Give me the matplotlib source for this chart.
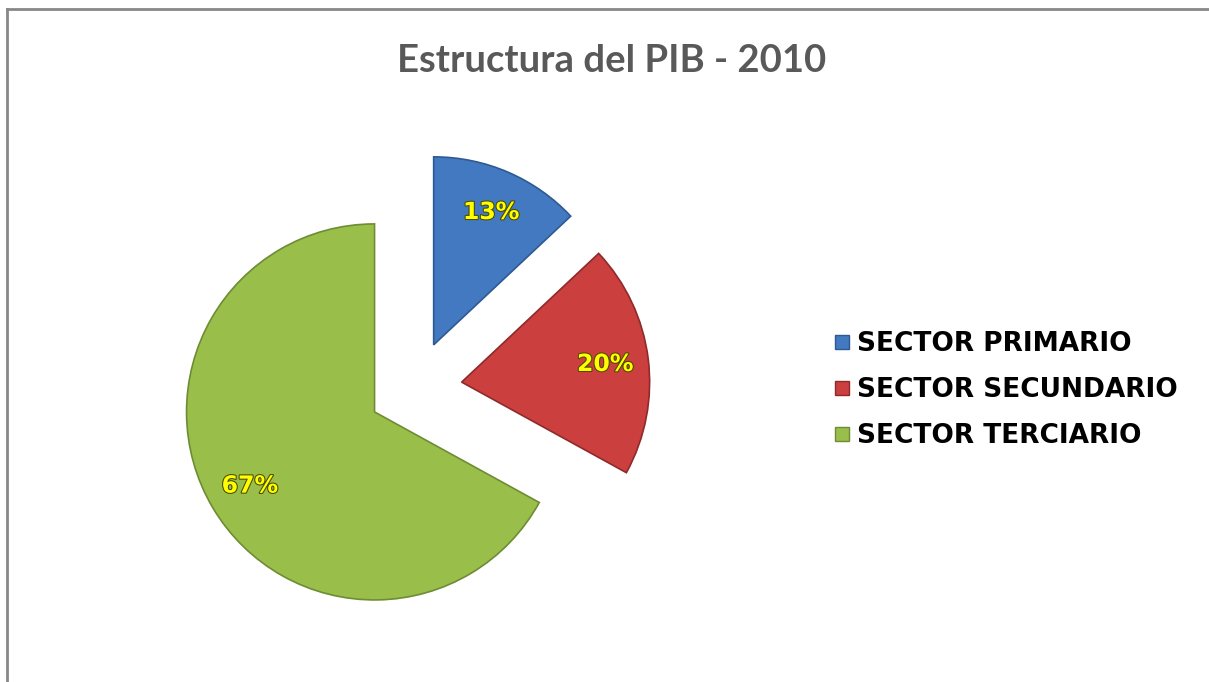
#Pie chart of the GDP structure (2010) split by economic sector
import matplotlib.pyplot as plt
import matplotlib.patheffects as pe
from matplotlib.lines import Line2D

sectors = ['SECTOR PRIMARIO', 'SECTOR SECUNDARIO', 'SECTOR TERCIARIO']
shares = [13, 20, 67]
colors = ['#4279C0', '#CC3F3F', '#99BF4A']
edges = ['#2E5A92', '#8E2A2A', '#6E8C33']
title = 'Estructura del PIB - 2010'

W, H = 1209, 682
fig = plt.figure(figsize=(W / 100, H / 100), dpi=100)
ax = fig.add_axes([0, 0, 1, 1])

#pie center and radius in pixels, explode as a fraction of the radius
cx, cy, r = 415, 388, 188

wedges, texts, autotexts = ax.pie(
    shares, colors=colors, startangle=90, counterclock=False,
    explode=[0.25] * 3, radius=1, center=(0, 0), frame=True,
    autopct='%1.0f%%', pctdistance=0.77,
    wedgeprops=dict(linewidth=1.2),
    textprops=dict(color='#FFFF00', fontsize=17, fontweight='bold',
                   family='DejaVu Sans'))
for w, ec in zip(wedges, edges):
    w.set_edgecolor(ec)
ax.set_xlim(-cx / r, (W - cx) / r)
ax.set_ylim(-(H - cy) / r, cy / r)
ax.set_aspect('auto')
ax.axis('off')

for t in autotexts:
    t.set_path_effects([pe.withStroke(linewidth=1.5, foreground='#4a4a00')])

handles = [Line2D([], [], marker='s', linestyle='', markersize=10,
                  markerfacecolor=c, markeredgecolor=e)
           for c, e in zip(colors, edges)]
fig.legend(handles, sectors, loc='center left', bbox_to_anchor=(802 / W, 1 - 390 / H),
           frameon=False, handletextpad=0.0, handlelength=1.2, labelspacing=0.75,
           prop=dict(family='DejaVu Sans', weight='bold', size=19))

fig.text(612 / W, 1 - 61 / H, title, ha='center', va='center',
         fontsize=27.5, fontweight='bold', color='#595959', family='Lato')

#chart border (only top and left show in the crop)
fig.add_artist(Line2D([7 / W, 7 / W], [0, 1 - 9 / H], color='#888888', lw=2))
fig.add_artist(Line2D([7 / W, 1], [1 - 9 / H, 1 - 9 / H], color='#888888', lw=2))

fig.savefig('out.png', dpi=100)
